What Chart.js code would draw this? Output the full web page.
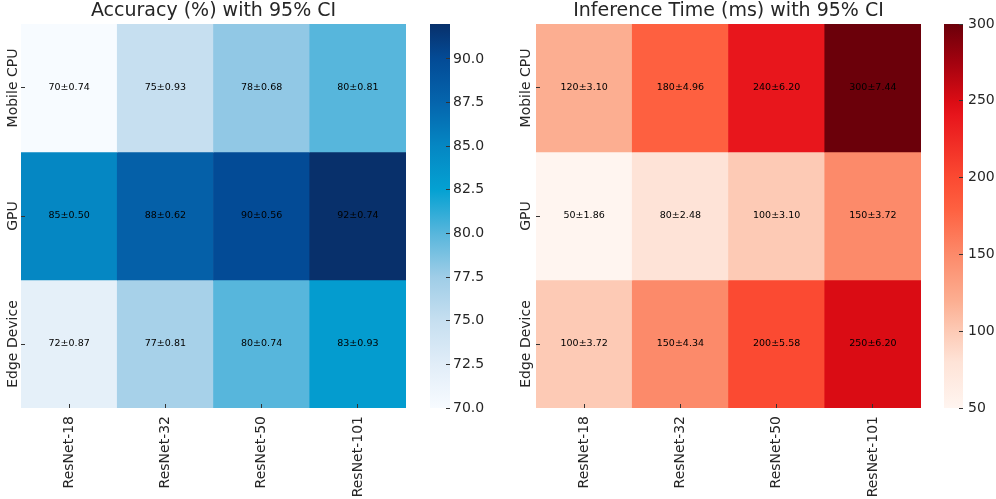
<!DOCTYPE html>
<html><head><meta charset="utf-8">
<script src="https://cdn.jsdelivr.net/npm/chart.js@4"></script>
<style>
html,body{margin:0;padding:0;background:#fff;overflow:hidden}
.wrap{position:relative;width:996px;height:499px}
canvas{position:absolute;left:0;top:0}
</style>
</head><body>
<div class="wrap">
<canvas id="accHeat" width="996" height="499"></canvas>
<canvas id="accBar" width="996" height="499"></canvas>
<canvas id="timeHeat" width="996" height="499"></canvas>
<canvas id="timeBar" width="996" height="499"></canvas>
</div>
<script>
// ---- data ----
const models = ['ResNet-18', 'ResNet-32', 'ResNet-50', 'ResNet-101'];
const devices = ['Mobile CPU', 'GPU', 'Edge Device'];

const accMobile = [70, 75, 78, 80];
const accGPU    = [85, 88, 90, 92];
const accEdge   = [72, 77, 80, 83];
const accCIMobile = [0.74, 0.93, 0.68, 0.81];
const accCIGPU    = [0.50, 0.62, 0.56, 0.74];
const accCIEdge   = [0.87, 0.81, 0.74, 0.93];

const timeMobile = [120, 180, 240, 300];
const timeGPU    = [50, 80, 100, 150];
const timeEdge   = [100, 150, 200, 250];
const timeCIMobile = [3.10, 4.96, 6.20, 7.44];
const timeCIGPU    = [1.86, 2.48, 3.10, 3.72];
const timeCIEdge   = [3.72, 4.34, 5.58, 6.20];

const accTicks  = [70, 72.5, 75, 77.5, 80, 82.5, 85, 87.5, 90];
const timeTicks = [50, 100, 150, 200, 250, 300];

// ---- colour maps (style) ----
const bluesStops = [
  [0.000, '#f7fbff'], [0.114, '#e1edf8'], [0.227, '#c6dff0'], [0.341, '#9fcde7'],
  [0.455, '#57b6dc'], [0.568, '#04a1d2'], [0.682, '#0587c3'], [0.795, '#0565ad'],
  [0.909, '#034b96'], [1.000, '#08306b']
];
const redsStops = [
  [0.00, '#fff5f0'], [0.12, '#fee3d7'], [0.20, '#fdcab5'], [0.28, '#fcae91'],
  [0.40, '#fc8a6a'], [0.52, '#fe6040'], [0.60, '#fb4a32'], [0.76, '#e8161c'],
  [0.80, '#da0c14'], [0.90, '#a3020f'], [1.00, '#6b000a']
];
function hex2rgb(h){return [parseInt(h.slice(1,3),16),parseInt(h.slice(3,5),16),parseInt(h.slice(5,7),16)];}
function cmap(stops, t){
  t = Math.max(0, Math.min(1, t));
  for (let i = 1; i < stops.length; i++){
    if (t <= stops[i][0]){
      const [t0,c0] = stops[i-1], [t1,c1] = stops[i];
      const f = (t - t0) / (t1 - t0);
      const a = hex2rgb(c0), b = hex2rgb(c1);
      const r = a.map((v,k)=>Math.round(v + (b[k]-v)*f));
      return `rgb(${r[0]},${r[1]},${r[2]})`;
    }
  }
  return stops[stops.length-1][1];
}

Chart.defaults.font.family = "'DejaVu Sans', sans-serif";
Chart.defaults.color = '#262626';

const cellTextPlugin = {
  id: 'cellText',
  afterDatasetsDraw(chart, args, opts){
    if (!opts.values) return;
    const ctx = chart.ctx;
    ctx.save();
    ctx.font = "9.5px 'DejaVu Sans', sans-serif";
    ctx.fillStyle = '#000';
    ctx.textAlign = 'center';
    ctx.textBaseline = 'middle';
    chart.data.datasets.forEach((ds, i) => {
      const meta = chart.getDatasetMeta(i);
      meta.data.forEach((bar, j) => {
        const txt = opts.values[i][j] + '\u00b1' + opts.cis[i][j].toFixed(2);
        ctx.fillText(txt, bar.x, (bar.y + bar.base) / 2);
      });
    });
    ctx.restore();
  }
};
const rowLabelPlugin = {
  id: 'rowLabels',
  afterDraw(chart, args, opts){
    if (!opts.labels) return;
    const ys = chart.scales.y;
    const ctx = chart.ctx;
    ctx.save();
    ctx.font = "14px 'DejaVu Sans', sans-serif";
    ctx.fillStyle = '#262626';
    ctx.textAlign = 'center';
    ctx.textBaseline = 'alphabetic';
    opts.labels.forEach((lab, i) => {
      const y = ys.getPixelForValue(opts.labels.length - i - 0.5);
      ctx.save();
      ctx.translate(opts.x, y);
      ctx.rotate(-Math.PI / 2);
      ctx.fillText(lab, 0, 0);
      ctx.restore();
    });
    ctx.restore();
  }
};

function makeHeatmap(id, title, rows, cis, stops, padL, padR, labelX){
  const all = rows.flat();
  const vmin = Math.min(...all), vmax = Math.max(...all);
  const n = rows.length;
  const datasets = rows.map((row, i) => ({
    data: row.map(() => [n - 1 - i, n - i]),
    backgroundColor: row.map(v => cmap(stops, (v - vmin) / (vmax - vmin))),
    borderWidth: 0,
    barPercentage: 1,
    categoryPercentage: 1,
    grouped: false
  }));
  new Chart(document.getElementById(id), {
    type: 'bar',
    data: { labels: models, datasets },
    options: {
      responsive: false,
      animation: false,
      layout: { padding: { left: padL, right: padR, top: 0, bottom: 0 } },
      plugins: {
        legend: { display: false },
        tooltip: { enabled: false },
        title: { display: true, text: title, font: { size: 19, weight: 'normal' }, color: '#262626', padding: { top: 0, bottom: 1.2 } },
        cellText: { values: rows, cis },
        rowLabels: { labels: devices, x: labelX }
      },
      scales: {
        x: {
          grid: { drawOnChartArea: false, offset: false, tickLength: -4, color: '#333', z: 1 },
          border: { display: false },
          ticks: { minRotation: 90, maxRotation: 90, autoSkip: false, padding: 12, font: { size: 14 }, color: '#262626' },
          afterFit: s => { s.height = 91; }
        },
        y: {
          min: 0, max: n,
          grid: { drawOnChartArea: false, tickLength: -4, color: '#333', z: 1 },
          border: { display: false },
          ticks: { display: false },
          afterBuildTicks: s => { s.ticks = devices.map((d, i) => ({ value: n - i - 0.5 })); },
          afterFit: s => { s.width = 0; }
        }
      }
    },
    plugins: [cellTextPlugin, rowLabelPlugin]
  });
}

function makeColorbar(id, rows, stops, ticks, fmt, padL, padR, axisW, tickPad){
  const all = rows.flat();
  const vmin = Math.min(...all), vmax = Math.max(...all);
  new Chart(document.getElementById(id), {
    type: 'bar',
    data: { labels: [''], datasets: [{
      data: [[vmin, vmax]],
      borderWidth: 0,
      barPercentage: 1,
      categoryPercentage: 1,
      backgroundColor: (c) => {
        const area = c.chart.chartArea;
        if (!area) return stops[0][1];
        const g = c.chart.ctx.createLinearGradient(0, area.bottom, 0, area.top);
        stops.forEach(([t, col]) => g.addColorStop(t, col));
        return g;
      }
    }] },
    options: {
      responsive: false,
      animation: false,
      layout: { padding: { left: padL, right: padR, top: 24, bottom: 91 } },
      plugins: { legend: { display: false }, tooltip: { enabled: false } },
      scales: {
        x: { display: false },
        y: {
          position: 'right', min: vmin, max: vmax,
          grid: { drawOnChartArea: false, tickLength: -4, color: '#333', z: 1 },
          border: { display: false },
          ticks: { padding: tickPad, font: { size: 14 }, color: '#262626', callback: fmt },
          afterBuildTicks: s => { s.ticks = ticks.map(v => ({ value: v })); },
          afterFit: s => { s.width = axisW; }
        }
      }
    }
  });
}

const accRows = [accMobile, accGPU, accEdge];
const accCIs = [accCIMobile, accCIGPU, accCIEdge];
const timeRows = [timeMobile, timeGPU, timeEdge];
const timeCIs = [timeCIMobile, timeCIGPU, timeCIEdge];

makeHeatmap('accHeat', 'Accuracy (%) with 95% CI', accRows, accCIs, bluesStops, 21, 996 - 406, 16.5);
makeColorbar('accBar', accRows, bluesStops, accTicks, v => Number(v).toFixed(1), 430, 996 - 450 - 50, 50, 7);
makeHeatmap('timeHeat', 'Inference Time (ms) with 95% CI', timeRows, timeCIs, redsStops, 536, 996 - 921, 529.5);
makeColorbar('timeBar', timeRows, redsStops, timeTicks, v => String(v), 944, 0, 996 - 963, 9);
</script>
</body></html>
